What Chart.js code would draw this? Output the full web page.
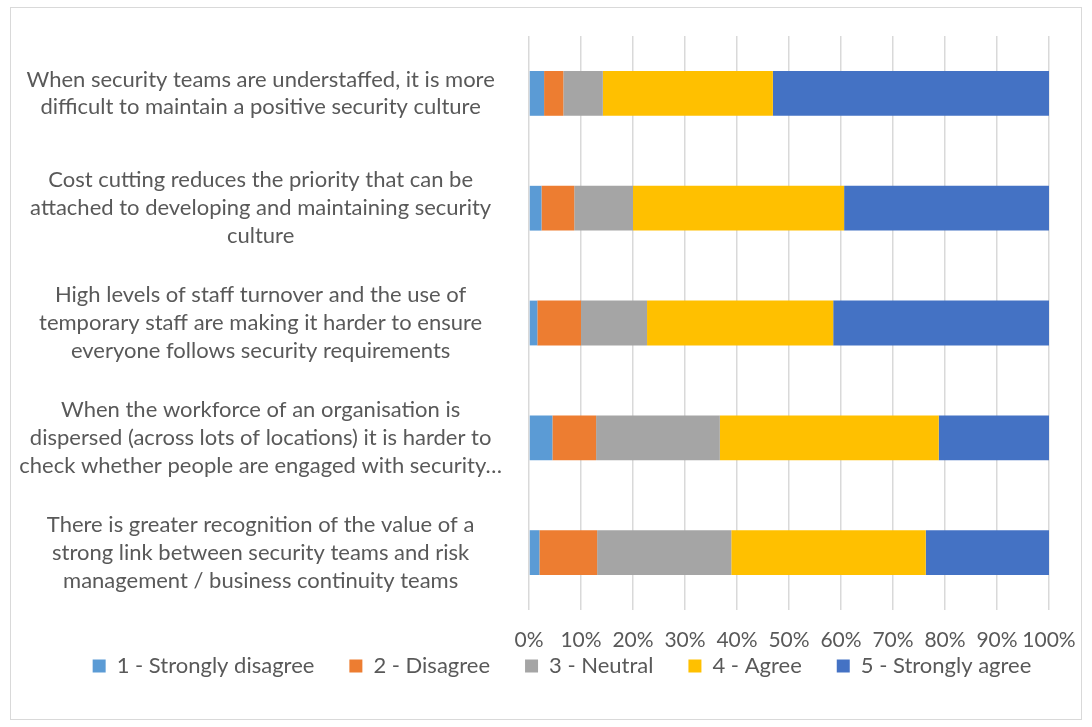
<!DOCTYPE html>
<html>
<head>
<meta charset="utf-8">
<script src="https://cdn.jsdelivr.net/npm/chart.js@4/dist/chart.umd.min.js"></script>
<style>
  html, body { margin: 0; padding: 0; background: #ffffff; }
  #frame {
    position: absolute; left: 10px; top: 7px;
    width: 1070px; height: 711px;
    border: 1px solid #d9d9d9; background: #ffffff;
  }
  #chart { display: block; }
</style>
</head>
<body>
<div id="frame"><canvas id="chart" width="1070" height="711"></canvas></div>
<script>
// Survey statements (each entry is the wrapped lines of one axis label)
const statements = [
  ["When security teams are understaffed, it is more", "difficult to maintain a positive security culture"],
  ["Cost cutting reduces the priority that can be", "attached to developing and maintaining security", "culture"],
  ["High levels of staff turnover and the use of", "temporary staff are making it harder to ensure", "everyone follows security requirements"],
  ["When the workforce of an organisation is", "dispersed (across lots of locations) it is harder to", "check whether people are engaged with security\u2026"],
  ["There is greater recognition of the value of a", "strong link between security teams and risk", "management / business continuity teams"]
];

// Share of respondents (%) per answer, one value per statement
const stronglyDisagree = [2.9, 2.4, 1.6, 4.5, 2.0];
const disagree         = [3.7, 6.3, 8.4, 8.4, 11.1];
const neutral          = [7.6, 11.3, 12.7, 23.8, 25.8];
const agree            = [32.7, 40.6, 35.8, 42.1, 37.4];
const stronglyAgree    = [53.1, 39.4, 41.5, 21.2, 23.7];

const seriesNames = ["1 - Strongly disagree", "2 - Disagree", "3 - Neutral", "4 - Agree", "5 - Strongly agree"];
const seriesColors = ["#5B9BD5", "#ED7D31", "#A5A5A5", "#FFC000", "#4472C4"];
const percentStep = 10;

const seriesValues = [stronglyDisagree, disagree, neutral, agree, stronglyAgree];
const FONT = "Lato, 'Liberation Sans', sans-serif";
const TEXT = "#595959";

// Pull the legend row up under the axis labels and centre it on the page body
const legendPlacement = {
  id: "legendPlacement",
  afterLayout(chart) {
    const lg = chart.legend;
    if (!lg) return;
    const dy = -32, dx = 32;
    lg.top += dy; lg.bottom += dy;
    lg.left += dx; lg.right += dx;
  }
};

new Chart(document.getElementById("chart"), {
  type: "bar",
  data: {
    labels: statements,
    datasets: seriesValues.map((vals, i) => ({
      label: seriesNames[i],
      data: vals,
      backgroundColor: seriesColors[i],
      borderWidth: 0,
      barPercentage: 0.39,
      categoryPercentage: 1
    }))
  },
  plugins: [legendPlacement],
  options: {
    indexAxis: "y",
    responsive: false,
    animation: false,
    layout: { padding: { left: 0, right: 32, top: 28, bottom: 0 } },
    scales: {
      x: {
        stacked: true,
        min: 0,
        max: 100,
        afterFit: (axis) => {
          axis.height = 42;
          axis.paddingLeft = 0;
          axis.paddingRight = 0;
        },
        grid: { color: "#d9d9d9", lineWidth: 1.5, drawTicks: false },
        border: { display: false },
        ticks: {
          stepSize: percentStep,
          padding: 18,
          maxRotation: 0,
          autoSkip: false,
          color: TEXT,
          font: { family: FONT, size: 21 },
          callback: (v) => v + "%"
        }
      },
      y: {
        stacked: true,
        afterFit: (axis) => {
          axis.width = 518;
          axis.paddingTop = 0;
          axis.paddingBottom = 0;
        },
        grid: { display: false, drawTicks: false },
        border: { display: false },
        ticks: {
          padding: 27,
          crossAlign: "center",
          color: TEXT,
          font: { family: FONT, size: 22, lineHeight: 1.27 }
        }
      }
    },
    plugins: {
      legend: {
        position: "bottom",
        labels: {
          boxWidth: 13,
          boxHeight: 13,
          padding: 35,
          color: TEXT,
          font: { family: FONT, size: 22 }
        }
      },
      tooltip: { enabled: false }
    }
  }
});
</script>
</body>
</html>
